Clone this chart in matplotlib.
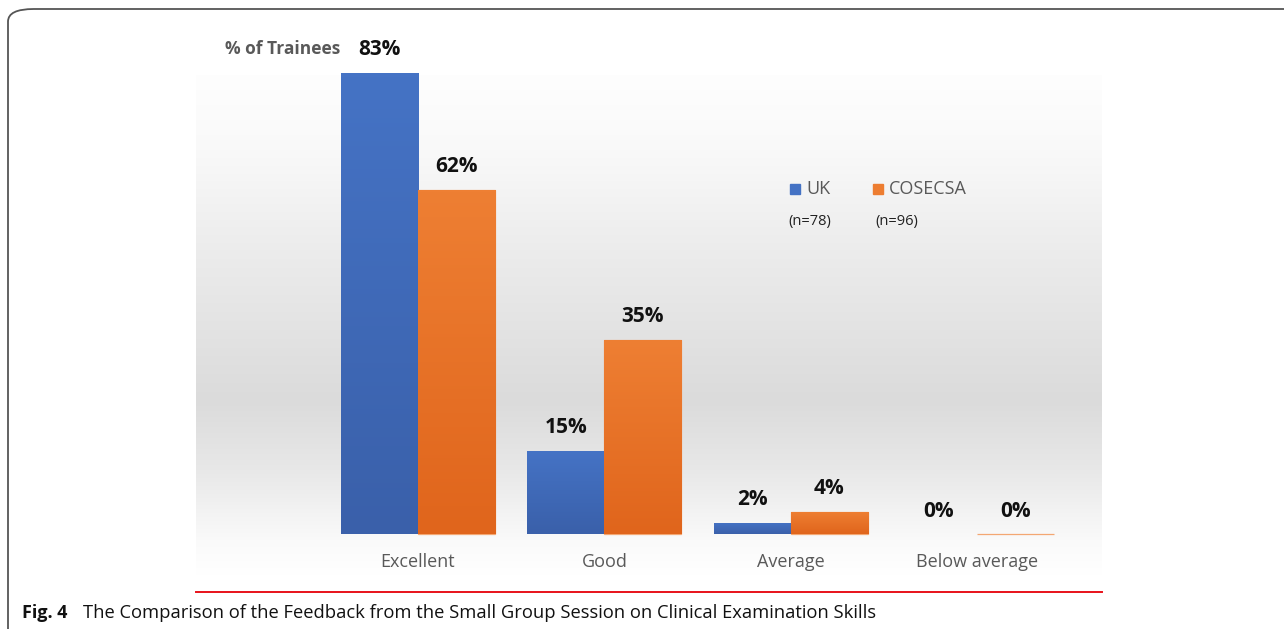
import numpy as np
import matplotlib
matplotlib.use("Agg")
import matplotlib.pyplot as plt
from matplotlib.patches import FancyBboxPatch, Rectangle
from matplotlib.colors import LinearSegmentedColormap

categories = ["Excellent", "Good", "Average", "Below average"]
uk_values = [83, 15, 2, 0]
cosecsa_values = [62, 35, 4, 0]
series_names = ["UK", "COSECSA"]
series_n = ["(n=78)", "(n=96)"]
y_title = "% of Trainees"
caption_bold = "Fig. 4"
caption_text = "The Comparison of the Feedback from the Small Group Session on Clinical Examination Skills"

W, H = 1284, 629
fig = plt.figure(figsize=(W / 100, H / 100), dpi=100)
FONT = "Open Sans"

def fx(px):
    return px / W

def fy(py):
    return 1 - py / H

# rounded border
border = FancyBboxPatch((fx(8), fy(700)), fx(1400), 691 / H,
                        boxstyle="round,pad=0,rounding_size=0.02",
                        transform=fig.transFigure, fill=False,
                        edgecolor="#555555", lw=1.3, zorder=0)
fig.patches.append(border)

# background gradient
bg = fig.add_axes([fx(196), fy(575), 906 / W, 500 / H])
rows = np.arange(75, 575)
grey = np.interp(rows, [75, 150, 250, 400, 470, 540, 575],
                 [254, 249, 236, 219, 232, 250, 255]) / 255.0
img = np.repeat(grey[:, None], 10, axis=1)
img = np.dstack([img, img, img])
bg.imshow(img, aspect="auto", extent=[0, 1, 0, 1], interpolation="bilinear")
bg.set_axis_off()

# main axes
ax = fig.add_axes([fx(196), fy(592), 906 / W, 552 / H])
ax.patch.set_alpha(0)
xlim = (-1.19, 3.668)
ylim = (-10.44, 88.94)

x = np.arange(len(categories))
w = 0.413

blue_cmap = LinearSegmentedColormap.from_list("b", ["#3A60AA", "#4573C5"])
orange_cmap = LinearSegmentedColormap.from_list("o", ["#E0651C", "#EE7F33"])

def draw_bars(xs, vals, cmap, edge):
    bars = ax.bar(xs, vals, w, color=cmap(0.6), edgecolor=edge,
                  linewidth=0.9 if edge != "none" else 0, zorder=2)
    for b, v in zip(bars, vals):
        if v > 0:
            x0 = b.get_x()
            grad = np.linspace(0, 1, 100)[:, None]
            im = ax.imshow(grad, cmap=cmap, aspect="auto", origin="lower",
                           extent=[x0, x0 + b.get_width(), 0, v], zorder=3)
            im.set_clip_path(b)
    return bars

draw_bars(x - w / 2, uk_values, blue_cmap, "none")
draw_bars(x + w / 2, cosecsa_values, orange_cmap, "#F3A772")

for xs, vals in [(x - w / 2, uk_values), (x + w / 2, cosecsa_values)]:
    for xi, v in zip(xs, vals):
        ax.annotate(f"{v}%", (xi, v), xytext=(0, 23), textcoords="offset pixels",
                    ha="center", va="center", fontsize=15, fontweight="bold",
                    family=FONT, color="#111111", zorder=5)

ax.set_xlim(*xlim)
ax.set_ylim(*ylim)
ax.set_yticks([])
ax.set_xticks([])
for s in ["top", "left", "right"]:
    ax.spines[s].set_visible(False)
ax.spines["bottom"].set_color("#E8121A")
ax.spines["bottom"].set_linewidth(1.4)

for xi, c in zip(x, categories):
    ax.annotate(c, (xi, 0), xytext=(0, -28), textcoords="offset pixels",
                ha="center", va="center", fontsize=13, family=FONT,
                color="#595959")

# y title
fig.text(fx(225), fy(49), y_title, ha="left", va="center", fontsize=12.5,
         fontweight="bold", family=FONT, color="#595959")

# legend (manual)
leg_sq_x = [790, 873]
leg_txt_x = [806, 889]
leg_n_x = [788, 875]
colors = ["#4472C4", "#ED7D31"]
for i in range(2):
    fig.patches.append(Rectangle((fx(leg_sq_x[i]), fy(194)), 10 / W, 10 / H,
                                 transform=fig.transFigure, color=colors[i]))
    fig.text(fx(leg_txt_x[i]), fy(189), series_names[i], ha="left", va="center",
             fontsize=13, family=FONT, color="#595959")
    fig.text(fx(leg_n_x[i]), fy(221), series_n[i], ha="left", va="center",
             fontsize=10.5, family=FONT, color="#222222")

# caption
fig.text(fx(22), fy(613), caption_bold, ha="left", va="center",
         fontsize=13, fontweight="bold", family=FONT, color="#111111")
fig.text(fx(83), fy(613), caption_text, ha="left", va="center",
         fontsize=13.2, family=FONT, color="#111111")

fig.savefig("out.png", dpi=100)
